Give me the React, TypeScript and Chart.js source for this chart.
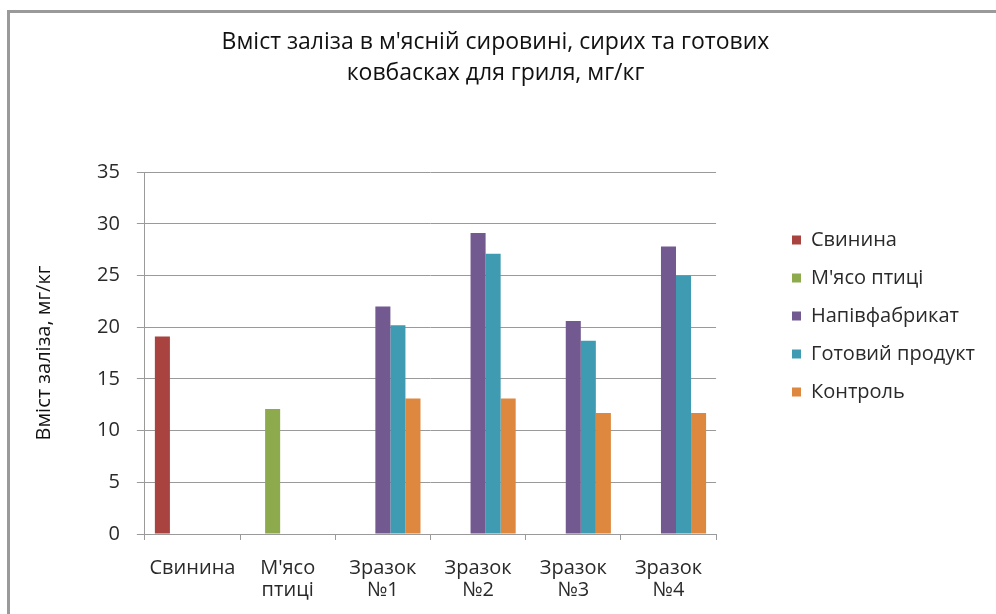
import React, { useEffect, useRef } from "react";
import { Chart, registerables } from "chart.js";

Chart.register(...registerables);

const categories: (string | string[])[] = [
  "Свинина",
  ["М'ясо", "птиці"],
  ["Зразок", "№1"],
  ["Зразок", "№2"],
  ["Зразок", "№3"],
  ["Зразок", "№4"],
];

const seriesNames = ["Свинина", "М'ясо птиці", "Напівфабрикат", "Готовий продукт", "Контроль"];

const pork = [19.1, null, null, null, null, null];
const poultry = [null, 12.1, null, null, null, null];
const semiProduct = [null, null, 22.0, 29.1, 20.6, 27.8];
const finishedProduct = [null, null, 20.2, 27.1, 18.7, 25.0];
const control = [null, null, 13.1, 13.1, 11.7, 11.7];

const seriesColors = ["#A9433F", "#8DAA4C", "#725990", "#3F9BB2", "#DE873E"];

const yTicks = [0, 5, 10, 15, 20, 25, 30, 35];

const titleLines = ["Вміст заліза в м'ясній сировині, сирих та готових", "ковбасках для гриля, мг/кг"];
const yTitle = "Вміст заліза, мг/кг";

const LEGEND_PAD = 18;

const boxPlace = {
  id: "boxPlace",
  afterLayout(chart: any) {
    const lg = chart.legend;
    if (lg) {
      const w = lg.right - lg.left;
      lg.left = 792 - LEGEND_PAD;
      lg.right = lg.left + w;
      lg.top = 230 - LEGEND_PAD;
      lg.bottom = lg.top + 260;
    }
    const tb = chart.titleBlock;
    if (tb) {
      tb.left += 22;
      tb.right += 22;
    }
  },
};

export default function App() {
  const ref = useRef<HTMLCanvasElement | null>(null);
  useEffect(() => {
    if (!ref.current) return;
    const values = [pork, poultry, semiProduct, finishedProduct, control];
    const chart = new Chart(ref.current, {
      type: "bar",
      data: {
        labels: categories,
        datasets: values.map((v, i) => ({
          label: seriesNames[i],
          data: v,
          backgroundColor: seriesColors[i],
          borderWidth: 0,
          categoryPercentage: 0.79,
          barPercentage: 1,
        })),
      },
      plugins: [boxPlace],
      options: {
        animation: false,
        responsive: false,
        layout: { padding: { left: 20, right: 69, top: 27, bottom: 0 } },
        plugins: {
          title: {
            display: true,
            text: titleLines,
            color: "#111",
            font: { family: "Open Sans", size: 23, weight: "normal", lineHeight: 1.35 },
            padding: { top: 0, bottom: 83 },
          },
          legend: {
            display: true,
            position: "right",
            align: "start",
            labels: {
              boxWidth: 9,
              boxHeight: 9,
              padding: LEGEND_PAD,
              color: "#2a2a2a",
              font: { family: "Open Sans", size: 20 },
            },
          },
          tooltip: { enabled: false },
        },
        scales: {
          x: {
            offset: true,
            afterFit: (scale: any) => {
              scale.height = 80;
            },
            grid: {
              display: true,
              drawOnChartArea: false,
              offset: true,
              tickLength: 6,
              color: "#9a9a9a",
            },
            border: { color: "#9a9a9a", width: 1 },
            ticks: {
              color: "#2a2a2a",
              font: { family: "Open Sans", size: 20, lineHeight: 1.1 },
              padding: 17,
              maxRotation: 0,
              autoSkip: false,
            },
          },
          y: {
            min: 0,
            max: 35,
            afterBuildTicks: (axis: any) => {
              axis.ticks = yTicks.map((v) => ({ value: v }));
            },
            grid: {
              color: "#9a9a9a",
              tickLength: 8,
            },
            border: { color: "#9a9a9a", width: 1 },
            ticks: {
              color: "#2a2a2a",
              font: { family: "Open Sans", size: 20 },
              padding: 17,
            },
            title: {
              display: true,
              text: yTitle,
              color: "#111",
              font: { family: "Open Sans", size: 20 },
              padding: { top: 12, bottom: 24 },
            },
          },
        },
      } as any,
    });
    return () => chart.destroy();
  }, []);

  return (
    <div style={{ position: "fixed", left: 0, top: 0, width: 996, height: 614, background: "#fff" }}>
      <div
        style={{
          position: "absolute",
          left: 7,
          top: 10,
          width: 1000,
          height: 620,
          borderLeft: "3px solid #9a9a9a",
          borderTop: "3px solid #9a9a9a",
        }}
      />
      <canvas ref={ref} width={996} height={614} style={{ position: "absolute", left: 0, top: 0 }} />
    </div>
  );
}
